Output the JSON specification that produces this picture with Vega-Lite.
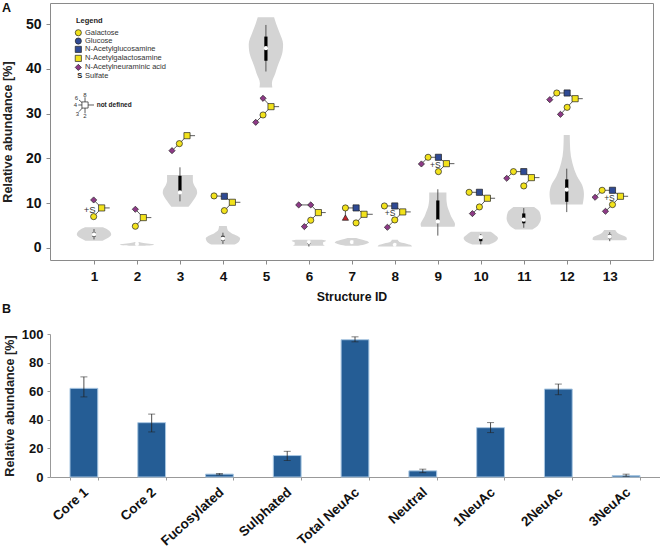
{
"$schema":"https://vega.github.io/schema/vega-lite/v6.json",
"background":"white",
"padding":{"left":0,"top":1,"right":0,"bottom":0},
"bounds":"flush",
"spacing":74,
"config":{"view":{"stroke":null},"font":"Liberation Sans"},
"datasets":{
"violin":[
{"id":1,"y":1.6,"lo":0.8,"hi":1.2},{"id":1,"y":2.2,"lo":0.68,"hi":1.32},{"id":1,"y":3,"lo":0.6,"hi":1.4},{"id":1,"y":4,"lo":0.67,"hi":1.33},{"id":1,"y":4.6,"lo":0.79,"hi":1.21},
{"id":2,"y":0.5,"lo":1.85,"hi":2.15},{"id":2,"y":0.6,"lo":1.65,"hi":2.35},{"id":2,"y":0.8,"lo":1.6,"hi":2.4},{"id":2,"y":0.9,"lo":1.67,"hi":2.33},{"id":2,"y":1.1,"lo":1.85,"hi":2.15},{"id":2,"y":1.3,"lo":1.95,"hi":2.05},
{"id":3,"y":9.2,"lo":2.8,"hi":3.2},{"id":3,"y":10.5,"lo":2.7,"hi":3.3},{"id":3,"y":11.5,"lo":2.63,"hi":3.37},{"id":3,"y":12.3,"lo":2.6,"hi":3.4},{"id":3,"y":13,"lo":2.61,"hi":3.39},{"id":3,"y":14,"lo":2.67,"hi":3.33},{"id":3,"y":15,"lo":2.7,"hi":3.3},{"id":3,"y":16.3,"lo":2.7,"hi":3.3},
{"id":4,"y":0.75,"lo":3.73,"hi":4.27},{"id":4,"y":1.4,"lo":3.63,"hi":4.37},{"id":4,"y":2.1,"lo":3.6,"hi":4.4},{"id":4,"y":2.7,"lo":3.67,"hi":4.33},{"id":4,"y":3.3,"lo":3.8,"hi":4.2},{"id":4,"y":4,"lo":3.89,"hi":4.11},{"id":4,"y":4.9,"lo":3.91,"hi":4.09},
{"id":5,"y":35.8,"lo":4.85,"hi":5.15},{"id":5,"y":36.8,"lo":4.86,"hi":5.14},{"id":5,"y":39,"lo":4.78,"hi":5.22},{"id":5,"y":40.5,"lo":4.73,"hi":5.27},{"id":5,"y":42,"lo":4.67,"hi":5.33},{"id":5,"y":44,"lo":4.61,"hi":5.39},{"id":5,"y":45.5,"lo":4.6,"hi":5.4},{"id":5,"y":48,"lo":4.68,"hi":5.32},{"id":5,"y":50,"lo":4.76,"hi":5.24},{"id":5,"y":51.5,"lo":4.81,"hi":5.19},
{"id":6,"y":0.5,"lo":5.63,"hi":6.37},{"id":6,"y":0.9,"lo":5.67,"hi":6.33},{"id":6,"y":1.2,"lo":5.67,"hi":6.33},{"id":6,"y":1.6,"lo":5.6,"hi":6.4},{"id":6,"y":1.8,"lo":5.7,"hi":6.3},
{"id":7,"y":0.5,"lo":6.85,"hi":7.15},{"id":7,"y":0.9,"lo":6.67,"hi":7.33},{"id":7,"y":1.2,"lo":6.6,"hi":7.4},{"id":7,"y":1.4,"lo":6.62,"hi":7.38},{"id":7,"y":1.8,"lo":6.75,"hi":7.25},{"id":7,"y":2.2,"lo":6.9,"hi":7.1},
{"id":8,"y":0.3,"lo":7.6,"hi":8.4},{"id":8,"y":0.6,"lo":7.62,"hi":8.38},{"id":8,"y":1,"lo":7.75,"hi":8.25},{"id":8,"y":1.4,"lo":7.9,"hi":8.1},{"id":8,"y":1.8,"lo":7.93,"hi":8.07},
{"id":9,"y":4.7,"lo":8.61,"hi":9.39},{"id":9,"y":5.3,"lo":8.6,"hi":9.4},{"id":9,"y":6,"lo":8.63,"hi":9.37},{"id":9,"y":7,"lo":8.69,"hi":9.31},{"id":9,"y":8,"lo":8.73,"hi":9.27},{"id":9,"y":9,"lo":8.77,"hi":9.23},{"id":9,"y":10,"lo":8.79,"hi":9.21},{"id":9,"y":11,"lo":8.8,"hi":9.2},{"id":9,"y":12.4,"lo":8.8,"hi":9.2},
{"id":10,"y":0.75,"lo":9.8,"hi":10.2},{"id":10,"y":1.3,"lo":9.67,"hi":10.33},{"id":10,"y":2.2,"lo":9.6,"hi":10.4},{"id":10,"y":3,"lo":9.68,"hi":10.32},{"id":10,"y":3.6,"lo":9.77,"hi":10.23},
{"id":11,"y":4.1,"lo":10.8,"hi":11.2},{"id":11,"y":5,"lo":10.67,"hi":11.33},{"id":11,"y":6.6,"lo":10.6,"hi":11.4},{"id":11,"y":8,"lo":10.63,"hi":11.37},{"id":11,"y":9.15,"lo":10.76,"hi":11.24},
{"id":12,"y":9.7,"lo":11.63,"hi":12.37},{"id":12,"y":10.8,"lo":11.61,"hi":12.39},{"id":12,"y":12,"lo":11.6,"hi":12.4},{"id":12,"y":14,"lo":11.64,"hi":12.36},{"id":12,"y":16,"lo":11.76,"hi":12.24},{"id":12,"y":19,"lo":11.87,"hi":12.13},{"id":12,"y":22,"lo":11.92,"hi":12.08},{"id":12,"y":25.2,"lo":11.93,"hi":12.07},
{"id":13,"y":1.7,"lo":12.67,"hi":13.33},{"id":13,"y":1.9,"lo":12.6,"hi":13.4},{"id":13,"y":2.3,"lo":12.61,"hi":13.39},{"id":13,"y":3.2,"lo":12.8,"hi":13.2},{"id":13,"y":4,"lo":12.87,"hi":13.13}
],
"box":[
{"id":1,"med":3,"q1":2.5,"q3":3.5,"wlo":1.9,"whi":4.2},
{"id":2,"med":0.9,"q1":0.8,"q3":1,"wlo":0.7,"whi":1.1},
{"id":3,"med":12.4,"q1":12.6,"q3":16.1,"wlo":10.4,"whi":18},
{"id":4,"med":2.1,"q1":1.6,"q3":2.7,"wlo":0.9,"whi":3.4},
{"id":5,"med":44.6,"q1":41.8,"q3":47.2,"wlo":39.4,"whi":49.8},
{"id":6,"med":1.3,"q1":0.9,"q3":1.5,"wlo":0.3,"whi":1.6},
{"id":7,"med":1.3,"q1":1.1,"q3":1.5,"wlo":1,"whi":1.6},
{"id":8,"med":0.7,"q1":0.5,"q3":0.9,"wlo":0.4,"whi":1},
{"id":9,"med":5.9,"q1":6.2,"q3":10.6,"wlo":2.75,"whi":13.1},
{"id":10,"med":2.4,"q1":1.5,"q3":2.3,"wlo":0.8,"whi":3.1},
{"id":11,"med":6.3,"q1":5.5,"q3":7.7,"wlo":4.5,"whi":8.9},
{"id":12,"med":13,"q1":10.3,"q3":15.3,"wlo":8,"whi":17.7},
{"id":13,"med":2.5,"q1":2.1,"q3":3,"wlo":1.5,"whi":3.5}
],
"edges":[
{"x":0.992,"y":10.71,"x2":1.178,"y2":8.93},{"x":0.992,"y":6.99,"x2":1.178,"y2":8.93},{"x":1.178,"y":8.93,"x2":1.365,"y2":8.93},
{"x":1.962,"y":8.63,"x2":2.148,"y2":6.77},{"x":1.962,"y":4.84,"x2":2.148,"y2":6.77},{"x":2.148,"y":6.77,"x2":2.334,"y2":6.77},
{"x":2.815,"y":21.72,"x2":2.986,"y2":23.29},{"x":2.986,"y":23.29,"x2":3.164,"y2":25.07},{"x":3.164,"y":25.07,"x2":3.351,"y2":25.07},
{"x":3.793,"y":11.61,"x2":4.033,"y2":11.53},{"x":4.033,"y":11.53,"x2":4.22,"y2":10.19},{"x":4.033,"y":8.33,"x2":4.22,"y2":10.19},{"x":4.22,"y":10.19,"x2":4.406,"y2":10.19},
{"x":4.933,"y":33.41,"x2":5.119,"y2":31.55},{"x":4.933,"y":29.69,"x2":5.119,"y2":31.55},{"x":4.763,"y":28.05,"x2":4.933,"y2":29.69},{"x":5.119,"y":31.55,"x2":5.306,"y2":31.55},
{"x":5.763,"y":9.6,"x2":6.043,"y2":9.6},{"x":6.043,"y":9.6,"x2":6.221,"y2":7.89},{"x":6.043,"y":6.18,"x2":6.221,"y2":7.89},{"x":5.895,"y":4.76,"x2":6.043,"y2":6.18},{"x":6.221,"y":7.89,"x2":6.392,"y2":7.89},
{"x":6.85,"y":8.93,"x2":7.098,"y2":8.93},{"x":6.85,"y":8.93,"x2":6.85,"y2":6.77},{"x":7.098,"y":8.93,"x2":7.284,"y2":7.51},{"x":7.098,"y":5.58,"x2":7.284,"y2":7.51},{"x":7.284,"y":7.51,"x2":7.486,"y2":7.51},
{"x":7.757,"y":9.37,"x2":7.998,"y2":9.37},{"x":7.998,"y":9.37,"x2":8.184,"y2":8.04},{"x":7.998,"y":6.25,"x2":8.184,"y2":8.04},{"x":7.827,"y":4.61,"x2":7.998,"y2":6.25},{"x":8.184,"y":8.04,"x2":8.37,"y2":8.04},
{"x":8.618,"y":18.75,"x2":8.774,"y2":20.24},{"x":8.774,"y":20.24,"x2":9.014,"y2":20.24},{"x":9.014,"y":20.24,"x2":9.2,"y2":18.82},{"x":9.014,"y":17.04,"x2":9.2,"y2":18.82},{"x":9.2,"y":18.82,"x2":9.386,"y2":18.82},
{"x":9.728,"y":12.42,"x2":9.968,"y2":12.42},{"x":9.968,"y":12.42,"x2":10.154,"y2":11.09},{"x":9.968,"y":9.15,"x2":10.154,"y2":11.09},{"x":9.805,"y":7.66,"x2":9.968,"y2":9.15},{"x":10.154,"y":11.09,"x2":10.333,"y2":11.09},
{"x":10.604,"y":15.55,"x2":10.76,"y2":17.04},{"x":10.76,"y":17.04,"x2":11,"y2":17.04},{"x":11,"y":17.04,"x2":11.178,"y2":15.7},{"x":11,"y":13.84,"x2":11.178,"y2":15.7},{"x":11.178,"y":15.7,"x2":11.365,"y2":15.7},
{"x":11.605,"y":33.11,"x2":11.768,"y2":34.6},{"x":11.768,"y":34.6,"x2":12.009,"y2":34.6},{"x":12.009,"y":34.6,"x2":12.195,"y2":33.33},{"x":12.009,"y":31.4,"x2":12.195,"y2":33.33},{"x":11.854,"y":29.83,"x2":12.009,"y2":31.4},{"x":12.195,"y":33.33,"x2":12.373,"y2":33.33},
{"x":12.66,"y":11.31,"x2":12.823,"y2":12.87},{"x":12.823,"y":12.87,"x2":13.064,"y2":12.87},{"x":13.064,"y":12.87,"x2":13.25,"y2":11.53},{"x":13.064,"y":9.67,"x2":13.25,"y2":11.53},{"x":12.901,"y":8.18,"x2":13.064,"y2":9.67},{"x":13.25,"y":11.53,"x2":13.428,"y2":11.53},
{"x":0.651,"y":33.04,"x2":0.791,"y2":31.92},{"x":0.791,"y":33.63,"x2":0.791,"y2":31.92},{"x":0.635,"y":31.92,"x2":0.791,"y2":31.92},{"x":0.651,"y":30.43,"x2":0.791,"y2":31.92},{"x":0.791,"y":30.06,"x2":0.791,"y2":31.92},{"x":0.791,"y":31.92,"x2":1.0,"y2":31.92}
],
"nodes":[
{"x":0.992,"y":10.71,"t":"NeuAc"},{"x":1.178,"y":8.93,"t":"GalNAc"},{"x":0.992,"y":6.99,"t":"Gal"},
{"x":1.962,"y":8.63,"t":"NeuAc"},{"x":2.148,"y":6.77,"t":"GalNAc"},{"x":1.962,"y":4.84,"t":"Gal"},
{"x":2.815,"y":21.72,"t":"NeuAc"},{"x":2.986,"y":23.29,"t":"Gal"},{"x":3.164,"y":25.07,"t":"GalNAc"},
{"x":3.793,"y":11.61,"t":"Gal"},{"x":4.033,"y":11.53,"t":"GlcNAc"},{"x":4.22,"y":10.19,"t":"GalNAc"},{"x":4.033,"y":8.33,"t":"Gal"},
{"x":4.933,"y":33.41,"t":"NeuAc"},{"x":5.119,"y":31.55,"t":"GalNAc"},{"x":4.933,"y":29.69,"t":"Gal"},{"x":4.763,"y":28.05,"t":"NeuAc"},
{"x":5.763,"y":9.6,"t":"NeuAc"},{"x":6.043,"y":9.6,"t":"NeuAc"},{"x":6.221,"y":7.89,"t":"GalNAc"},{"x":6.043,"y":6.18,"t":"Gal"},{"x":5.895,"y":4.76,"t":"NeuAc"},
{"x":6.85,"y":8.93,"t":"Gal"},{"x":6.85,"y":6.77,"t":"Fuc"},{"x":7.098,"y":8.93,"t":"GlcNAc"},{"x":7.284,"y":7.51,"t":"GalNAc"},{"x":7.098,"y":5.58,"t":"Gal"},
{"x":7.757,"y":9.37,"t":"Gal"},{"x":7.998,"y":9.37,"t":"GlcNAc"},{"x":8.184,"y":8.04,"t":"GalNAc"},{"x":7.998,"y":6.25,"t":"Gal"},{"x":7.827,"y":4.61,"t":"NeuAc"},
{"x":8.618,"y":18.75,"t":"NeuAc"},{"x":8.774,"y":20.24,"t":"Gal"},{"x":9.014,"y":20.24,"t":"GlcNAc"},{"x":9.2,"y":18.82,"t":"GalNAc"},{"x":9.014,"y":17.04,"t":"Gal"},
{"x":9.728,"y":12.42,"t":"Gal"},{"x":9.968,"y":12.42,"t":"GlcNAc"},{"x":10.154,"y":11.09,"t":"GalNAc"},{"x":9.968,"y":9.15,"t":"Gal"},{"x":9.805,"y":7.66,"t":"NeuAc"},
{"x":10.604,"y":15.55,"t":"NeuAc"},{"x":10.76,"y":17.04,"t":"Gal"},{"x":11,"y":17.04,"t":"GlcNAc"},{"x":11.178,"y":15.7,"t":"GalNAc"},{"x":11,"y":13.84,"t":"Gal"},
{"x":11.605,"y":33.11,"t":"NeuAc"},{"x":11.768,"y":34.6,"t":"Gal"},{"x":12.009,"y":34.6,"t":"GlcNAc"},{"x":12.195,"y":33.33,"t":"GalNAc"},{"x":12.009,"y":31.4,"t":"Gal"},{"x":11.854,"y":29.83,"t":"NeuAc"},
{"x":12.66,"y":11.31,"t":"NeuAc"},{"x":12.823,"y":12.87,"t":"Gal"},{"x":13.064,"y":12.87,"t":"GlcNAc"},{"x":13.25,"y":11.53,"t":"GalNAc"},{"x":13.064,"y":9.67,"t":"Gal"},{"x":12.901,"y":8.18,"t":"NeuAc"},
{"x":0.635,"y":48.06,"t":"Gal"},{"x":0.635,"y":46.2,"t":"Glc"},{"x":0.635,"y":44.34,"t":"GlcNAc"},{"x":0.635,"y":42.33,"t":"GalNAc"},{"x":0.635,"y":40.32,"t":"NeuAc"},
{"x":0.791,"y":31.92,"t":"Any"}
],
"plusS":[
{"x":0.899,"y":8.41,"s":"+S","z":9.5},{"x":7.889,"y":7.74,"s":"+S","z":8.5},{"x":8.944,"y":18.53,"s":"+S","z":8.5},{"x":12.994,"y":11.09,"s":"+S","z":8.5}
],
"legendText":[
{"x":0.791,"y":48.06,"s":"Galactose"},{"x":0.791,"y":46.2,"s":"Glucose"},{"x":0.791,"y":44.34,"s":"N-Acetylglucosamine"},{"x":0.791,"y":42.33,"s":"N-Acetylgalactosamine"},{"x":0.791,"y":40.32,"s":"N-Acetylneuraminic acid"},{"x":0.791,"y":38.32,"s":"Sulfate"}
],
"legendBold":[
{"x":0.581,"y":50.74,"s":"Legend","a":7.5},{"x":0.61,"y":38.32,"s":"S","a":7.5},{"x":1.062,"y":31.92,"s":"not defined","a":6.5}
],
"legendNum":[
{"x":0.589,"y":33.48,"s":"6"},{"x":0.791,"y":34.22,"s":"8"},{"x":0.566,"y":31.92,"s":"4"},{"x":0.612,"y":29.91,"s":"3"},{"x":0.791,"y":29.46,"s":"2"}
],
"bars":[
{"c":"Core 1","v":62,"lo":56,"hi":70},
{"c":"Core 2","v":38,"lo":31.5,"hi":44},
{"c":"Fucosylated","v":2,"lo":1.5,"hi":2.5},
{"c":"Sulphated","v":15,"lo":11.5,"hi":18},
{"c":"Total NeuAc","v":96,"lo":94.5,"hi":98},
{"c":"Neutral","v":4.3,"lo":3,"hi":5.5},
{"c":"1NeuAc","v":34.5,"lo":31,"hi":38},
{"c":"2NeuAc","v":61.5,"lo":57.5,"hi":65},
{"c":"3NeuAc","v":1,"lo":0.5,"hi":2}
]
},
"vconcat":[
{
"width":603,"height":257,
"view":{"stroke":"#8a8a8a"},
"title":{"text":"A","anchor":"start","frame":"group","dx":-48,"offset":-11,"fontSize":12.5,"fontWeight":"bold","font":"Liberation Sans","color":"#111"},
"layer":[
{"data":{"name":"violin"},"mark":{"type":"area","orient":"horizontal","color":"#d4d4d4","interpolate":"monotone"},
"encoding":{"detail":{"field":"id"},
"x":{"field":"lo","type":"quantitative","scale":{"domain":[-0.024,14.007],"nice":false},"axis":{"title":"Structure ID","titleFont":"Liberation Sans","titleFontSize":12.3,"titleFontWeight":"bold","titleColor":"#111","titlePadding":8,"values":[1,2,3,4,5,6,7,8,9,10,11,12,13],"tickCount":13,"format":"d","grid":false,"domain":false,"tickColor":"#8a8a8a","tickSize":4,"labelFont":"Liberation Sans","labelFontSize":13.5,"labelFontWeight":"bold","labelColor":"#111","labelPadding":5}},
"x2":{"field":"hi"},
"y":{"field":"y","type":"quantitative","scale":{"domain":[-2.7,54.7],"nice":false,"zero":false},"axis":{"title":"Relative abundance [%]","titleFont":"Liberation Sans","titleFontSize":12.6,"titleFontWeight":"bold","titleColor":"#222","titlePadding":11,"values":[0,10,20,30,40,50],"tickCount":6,"grid":false,"domain":false,"tickColor":"#8a8a8a","tickSize":4,"labelFont":"Liberation Sans","labelFontSize":14,"labelFontWeight":"bold","labelColor":"#111","labelPadding":5}}}},
{"data":{"name":"box"},"mark":{"type":"rule","color":"#333","strokeWidth":0.8},
"encoding":{"x":{"field":"id","type":"quantitative"},"y":{"field":"wlo","type":"quantitative"},"y2":{"field":"whi"}}},
{"data":{"name":"box"},"mark":{"type":"rule","color":"#000","strokeWidth":3.2},
"encoding":{"x":{"field":"id","type":"quantitative"},"y":{"field":"q1","type":"quantitative"},"y2":{"field":"q3"}}},
{"data":{"name":"box"},"mark":{"type":"point","shape":"circle","filled":true,"color":"white","opacity":1,"size":18},
"encoding":{"x":{"field":"id","type":"quantitative"},"y":{"field":"med","type":"quantitative"}}},
{"data":{"name":"edges"},"mark":{"type":"rule","color":"#333","strokeWidth":0.8},
"encoding":{"x":{"field":"x","type":"quantitative"},"x2":{"field":"x2"},"y":{"field":"y","type":"quantitative"},"y2":{"field":"y2"}}},
{"data":{"name":"nodes"},"mark":{"type":"point","filled":true,"opacity":1,"stroke":"#222","strokeWidth":0.7},
"encoding":{"x":{"field":"x","type":"quantitative"},"y":{"field":"y","type":"quantitative"},
"size":{"field":"t","type":"ordinal","legend":null,"scale":{"domain":["Gal","Glc","GlcNAc","GalNAc","NeuAc","Fuc","Any"],"range":[38,38,30,30,46,40,30]}},
"shape":{"field":"t","type":"nominal","legend":null,"scale":{"domain":["Gal","Glc","GlcNAc","GalNAc","NeuAc","Fuc","Any"],"range":["circle","circle","square","square","diamond","triangle-up","square"]}},
"fill":{"field":"t","type":"nominal","legend":null,"scale":{"domain":["Gal","Glc","GlcNAc","GalNAc","NeuAc","Fuc","Any"],"range":["#f2e21c","#2f4a94","#2f4a94","#f2e21c","#8e3a87","#c4242b","#ffffff"]}}}},
{"data":{"name":"plusS"},"mark":{"type":"text","font":"Liberation Sans","color":"#333"},
"encoding":{"x":{"field":"x","type":"quantitative"},"y":{"field":"y","type":"quantitative"},"text":{"field":"s"},"size":{"field":"z","type":"quantitative","scale":null,"legend":null}}},
{"data":{"name":"legendText"},"mark":{"type":"text","font":"Liberation Sans","fontSize":7.5,"align":"left","color":"#333"},
"encoding":{"x":{"field":"x","type":"quantitative"},"y":{"field":"y","type":"quantitative"},"text":{"field":"s"}}},
{"data":{"name":"legendBold"},"mark":{"type":"text","font":"Liberation Sans","fontWeight":"bold","align":"left","color":"#222"},
"encoding":{"x":{"field":"x","type":"quantitative"},"y":{"field":"y","type":"quantitative"},"text":{"field":"s"},"size":{"field":"a","type":"quantitative","scale":null,"legend":null}}},
{"data":{"name":"legendNum"},"mark":{"type":"text","font":"Liberation Sans","fontSize":6,"color":"#333"},
"encoding":{"x":{"field":"x","type":"quantitative"},"y":{"field":"y","type":"quantitative"},"text":{"field":"s"}}}
]
},
{
"width":610,"height":143,
"title":{"text":"B","anchor":"start","frame":"group","dx":-48,"offset":13,"fontSize":12.5,"fontWeight":"bold","font":"Liberation Sans","color":"#111"},
"data":{"name":"bars"},
"layer":[
{"mark":{"type":"bar","color":"#255d95","stroke":"#a9c7e2","strokeWidth":1},
"encoding":{
"x":{"field":"c","type":"nominal","sort":null,"scale":{"paddingInner":0.59,"paddingOuter":0.295},"axis":{"title":null,"labelAngle":-42,"labelAlign":"right","labelBaseline":"middle","labelFont":"Liberation Sans","labelFontSize":13.5,"labelFontWeight":"bold","labelColor":"#111","labelPadding":10,"labelOffset":2,"tickBand":"extent","tickColor":"#999","tickSize":3,"domainColor":"#999"}},
"y":{"field":"v","type":"quantitative","scale":{"domain":[0,100],"nice":false},"axis":{"title":"Relative abundance [%]","titleFont":"Liberation Sans","titleFontSize":12.6,"titleFontWeight":"bold","titleColor":"#222","titlePadding":5,"values":[0,20,40,60,80,100],"tickCount":6,"labelOverlap":false,"grid":false,"tickColor":"#999","tickSize":3,"domainColor":"#999","labelFont":"Liberation Sans","labelFontSize":13,"labelFontWeight":"bold","labelColor":"#111","labelPadding":4}}}},
{"mark":{"type":"rule","color":"#222","strokeWidth":0.8},
"encoding":{"x":{"field":"c","type":"nominal","sort":null},"y":{"field":"lo","type":"quantitative"},"y2":{"field":"hi"}}},
{"mark":{"type":"tick","color":"#222","thickness":0.8,"size":7,"orient":"horizontal"},
"encoding":{"x":{"field":"c","type":"nominal","sort":null},"y":{"field":"lo","type":"quantitative"}}},
{"mark":{"type":"tick","color":"#222","thickness":0.8,"size":7,"orient":"horizontal"},
"encoding":{"x":{"field":"c","type":"nominal","sort":null},"y":{"field":"hi","type":"quantitative"}}}
]
}
]
}
